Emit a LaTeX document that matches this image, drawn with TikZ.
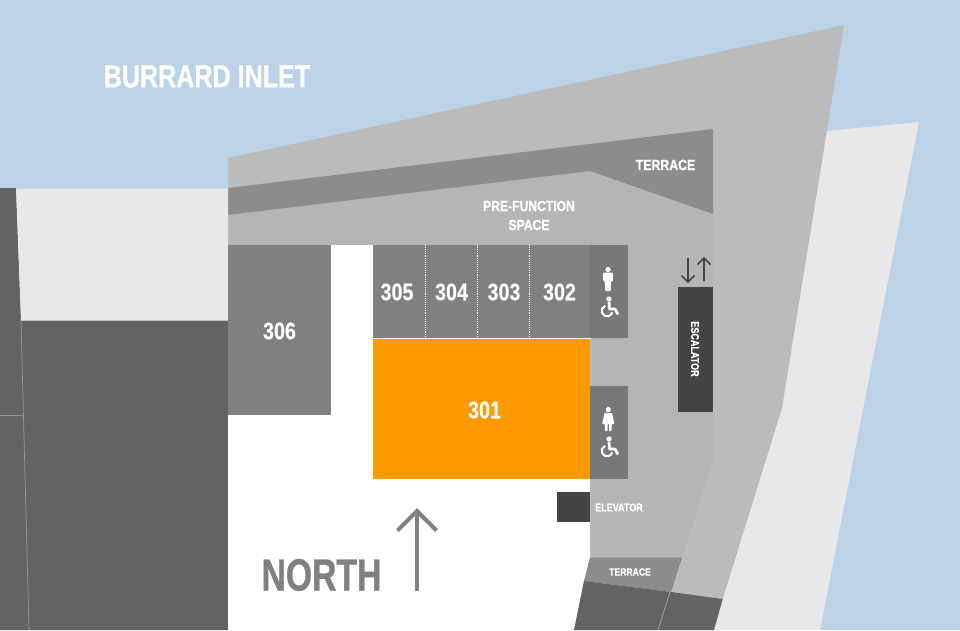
\documentclass[tikz,border=0pt]{standalone}
\usepackage{fontspec}
\setmainfont{Liberation Sans}
\newfontfamily\nar[FakeStretch=0.82,FakeBold=0.3]{Liberation Sans Bold}
\newfontfamily\narIn[FakeStretch=0.785,FakeBold=0.6]{Liberation Sans Bold}
\newfontfamily\narNo[FakeStretch=0.75,FakeBold=0.8]{Liberation Sans Bold}
\definecolor{water}{HTML}{BBD2E7}
\definecolor{pale}{HTML}{E8E8E8}
\definecolor{outer}{HTML}{BBBBBB}
\definecolor{inner}{HTML}{B5B5B5}
\definecolor{terr}{HTML}{8C8C8C}
\definecolor{dark}{HTML}{636363}
\definecolor{room}{HTML}{808080}
\definecolor{wc}{HTML}{787878}
\definecolor{black4}{HTML}{444444}
\definecolor{orng}{HTML}{FF9900}
\tikzset{
  lbl/.style={text=white,font=\nar,inner sep=0pt,align=center},
  seam/.style={white,line width=0.9pt,densely dotted},
  fine/.style={color=#1,line width=0.7pt},
  icon/.style={fill=white,draw=none},
  flowarrow/.style={black4,line width=1.5pt},
}
\newcommand{\fs}[1]{\fontsize{#1}{#1}\selectfont}
\begin{document}
\begin{tikzpicture}[x=1pt,y=-1pt]
\useasboundingbox (0,0) rectangle (960,630);
\fill[water] (0,0) rectangle (960,630);
% pale strip east
\fill[pale] (919,122) -- (820,630) -- (713,630) -- (781,300) -- (826,131) -- cycle;
% main building
\fill[outer] (228,158) -- (844,25) -- (782,408) -- (722.7,599) -- (670,592) -- (590,560) -- (228,560) -- cycle;
\fill[inner] (228,215) -- (590,171) -- (713,214) -- (713,460) -- (682,557.5) -- (590,557.5) -- (590,245) -- (228,245) -- cycle;
\fill[terr] (228,188) -- (713,129) -- (713,214) -- (590,171) -- (228,215) -- cycle;
% west side
\fill[dark] (0,188) -- (16,188) -- (21,320) -- (228,320) -- (228,630) -- (0,630) -- cycle;
\fill[pale] (16,188.5) -- (228,188.5) -- (228,320) -- (21,320) -- cycle;
\draw[fine=gray!80] (21,320) -- (29,630);
\draw[fine=gray!80] (0,415) -- (24,415);
\draw[fine=lightgray] (21,320) -- (228,320);
% white floor
\fill[white] (228,245) -- (590,245) -- (590,557.5) -- (584,581) -- (574,630) -- (228,630) -- cycle;
% south terrace and blocks
\fill[terr] (590,557.5) -- (682,557.5) -- (671,592) -- (584,581) -- cycle;
\fill[dark] (584,581) -- (671,592) -- (722.7,599) -- (714,630) -- (574,630) -- cycle;
\draw[fine=gray!70] (670,592) -- (658,630);
% rooms
\fill[room] (228,245) rectangle (331,415);
\fill[room] (373,245) rectangle (590,338);
\fill[wc] (590,245) rectangle (628,338);
\fill[wc] (590,386) rectangle (628,479);
\fill[orng] (373,339) rectangle (590,479);
\draw[seam] (425,245) -- (425,338);
\draw[seam] (477.5,245) -- (477.5,338);
\draw[seam] (529,245) -- (529,338);
\draw[seam] (373,338) -- (590,338);
\fill[black4] (557,492) rectangle (590,522);
\fill[black4] (678,287) rectangle (713,412);
% arrows
\coordinate (dt) at (688,258); \coordinate (db) at (688,282);
\coordinate (ut) at (704,258); \coordinate (ub) at (704,281);
\draw[flowarrow] (dt) -- (db);
\draw[flowarrow] (681.5,275.5) -- (db) -- (694.5,275.5);
\draw[flowarrow] (ub) -- (ut);
\draw[flowarrow] (697.5,264.5) -- (ut) -- (710.5,264.5);
\coordinate (nt) at (417,511); \coordinate (nb) at (417,591);
\draw[room,line width=4pt] (nb) -- (nt);
\draw[room,line width=4pt,miter limit=10] (397.5,530.5) -- (nt) -- (436.5,530.5);
% wheelchair icons
\foreach \dy in {0,140}{
\begin{scope}[yshift=-\dy pt]
  \fill[icon] (609,299) circle (2.6);
  \draw[white,line width=2pt] (605.2,305.8) arc[start angle=-110,end angle=-345,radius=5.4];
  \draw[white,line width=2.8pt,line join=round] (609,302) -- (609.5,309) -- (615,309) -- (618,314.5);
\end{scope}}
% man
\fill[icon,rounded corners=1pt] (603.2,272.5) -- (612.8,272.5) -- (613,281) -- (611,281) -- (610.8,291) -- (605.1,291) -- (604.9,281) -- (603,281) -- cycle;
\fill[icon] (608,269.5) circle (2.6);
% woman
\fill[icon] (608.3,409.6) circle (2.6);
\fill[icon,rounded corners=0.7pt] (604.5,412.8) -- (612,412.8) -- (614.5,424) -- (611.8,424) -- (611.5,431) -- (609,431) -- (609,424) -- (607.6,424) -- (607.6,431) -- (605,431) -- (604.8,424) -- (602.2,424) -- cycle;
% labels
\node[lbl,font=\narIn] (inlet) at (207,76.5) {\fs{32}BURRARD INLET};
\node[lbl] (terraceN) at (665.5,165) {\fs{15}TERRACE};
\node[lbl] (prefunA) at (529,206) {\fs{14.8}PRE-FUNCTION};
\node[lbl] (prefunB) at (529,225) {\fs{14.8}SPACE};
\node[lbl] (r306) at (279.5,331) {\fs{24}306};
\node[lbl] (r305) at (397,292) {\fs{24}305};
\node[lbl] (r304) at (451.5,292) {\fs{24}304};
\node[lbl] (r303) at (504,292) {\fs{24}303};
\node[lbl] (r302) at (559.5,292) {\fs{24}302};
\node[lbl] (r301) at (484.5,410) {\fs{24}301};
\node[lbl,rotate=-90] (esc) at (695,349) {\fs{11}ESCALATOR};
\node[lbl] (elev) at (619,507.5) {\fs{11}ELEVATOR};
\node[lbl] (terraceS) at (630,572) {\fs{10.5}TERRACE};
\node[lbl,font=\narNo,text=room] (north) at (321.5,575) {\fs{45}NORTH};
\end{tikzpicture}
\end{document}
